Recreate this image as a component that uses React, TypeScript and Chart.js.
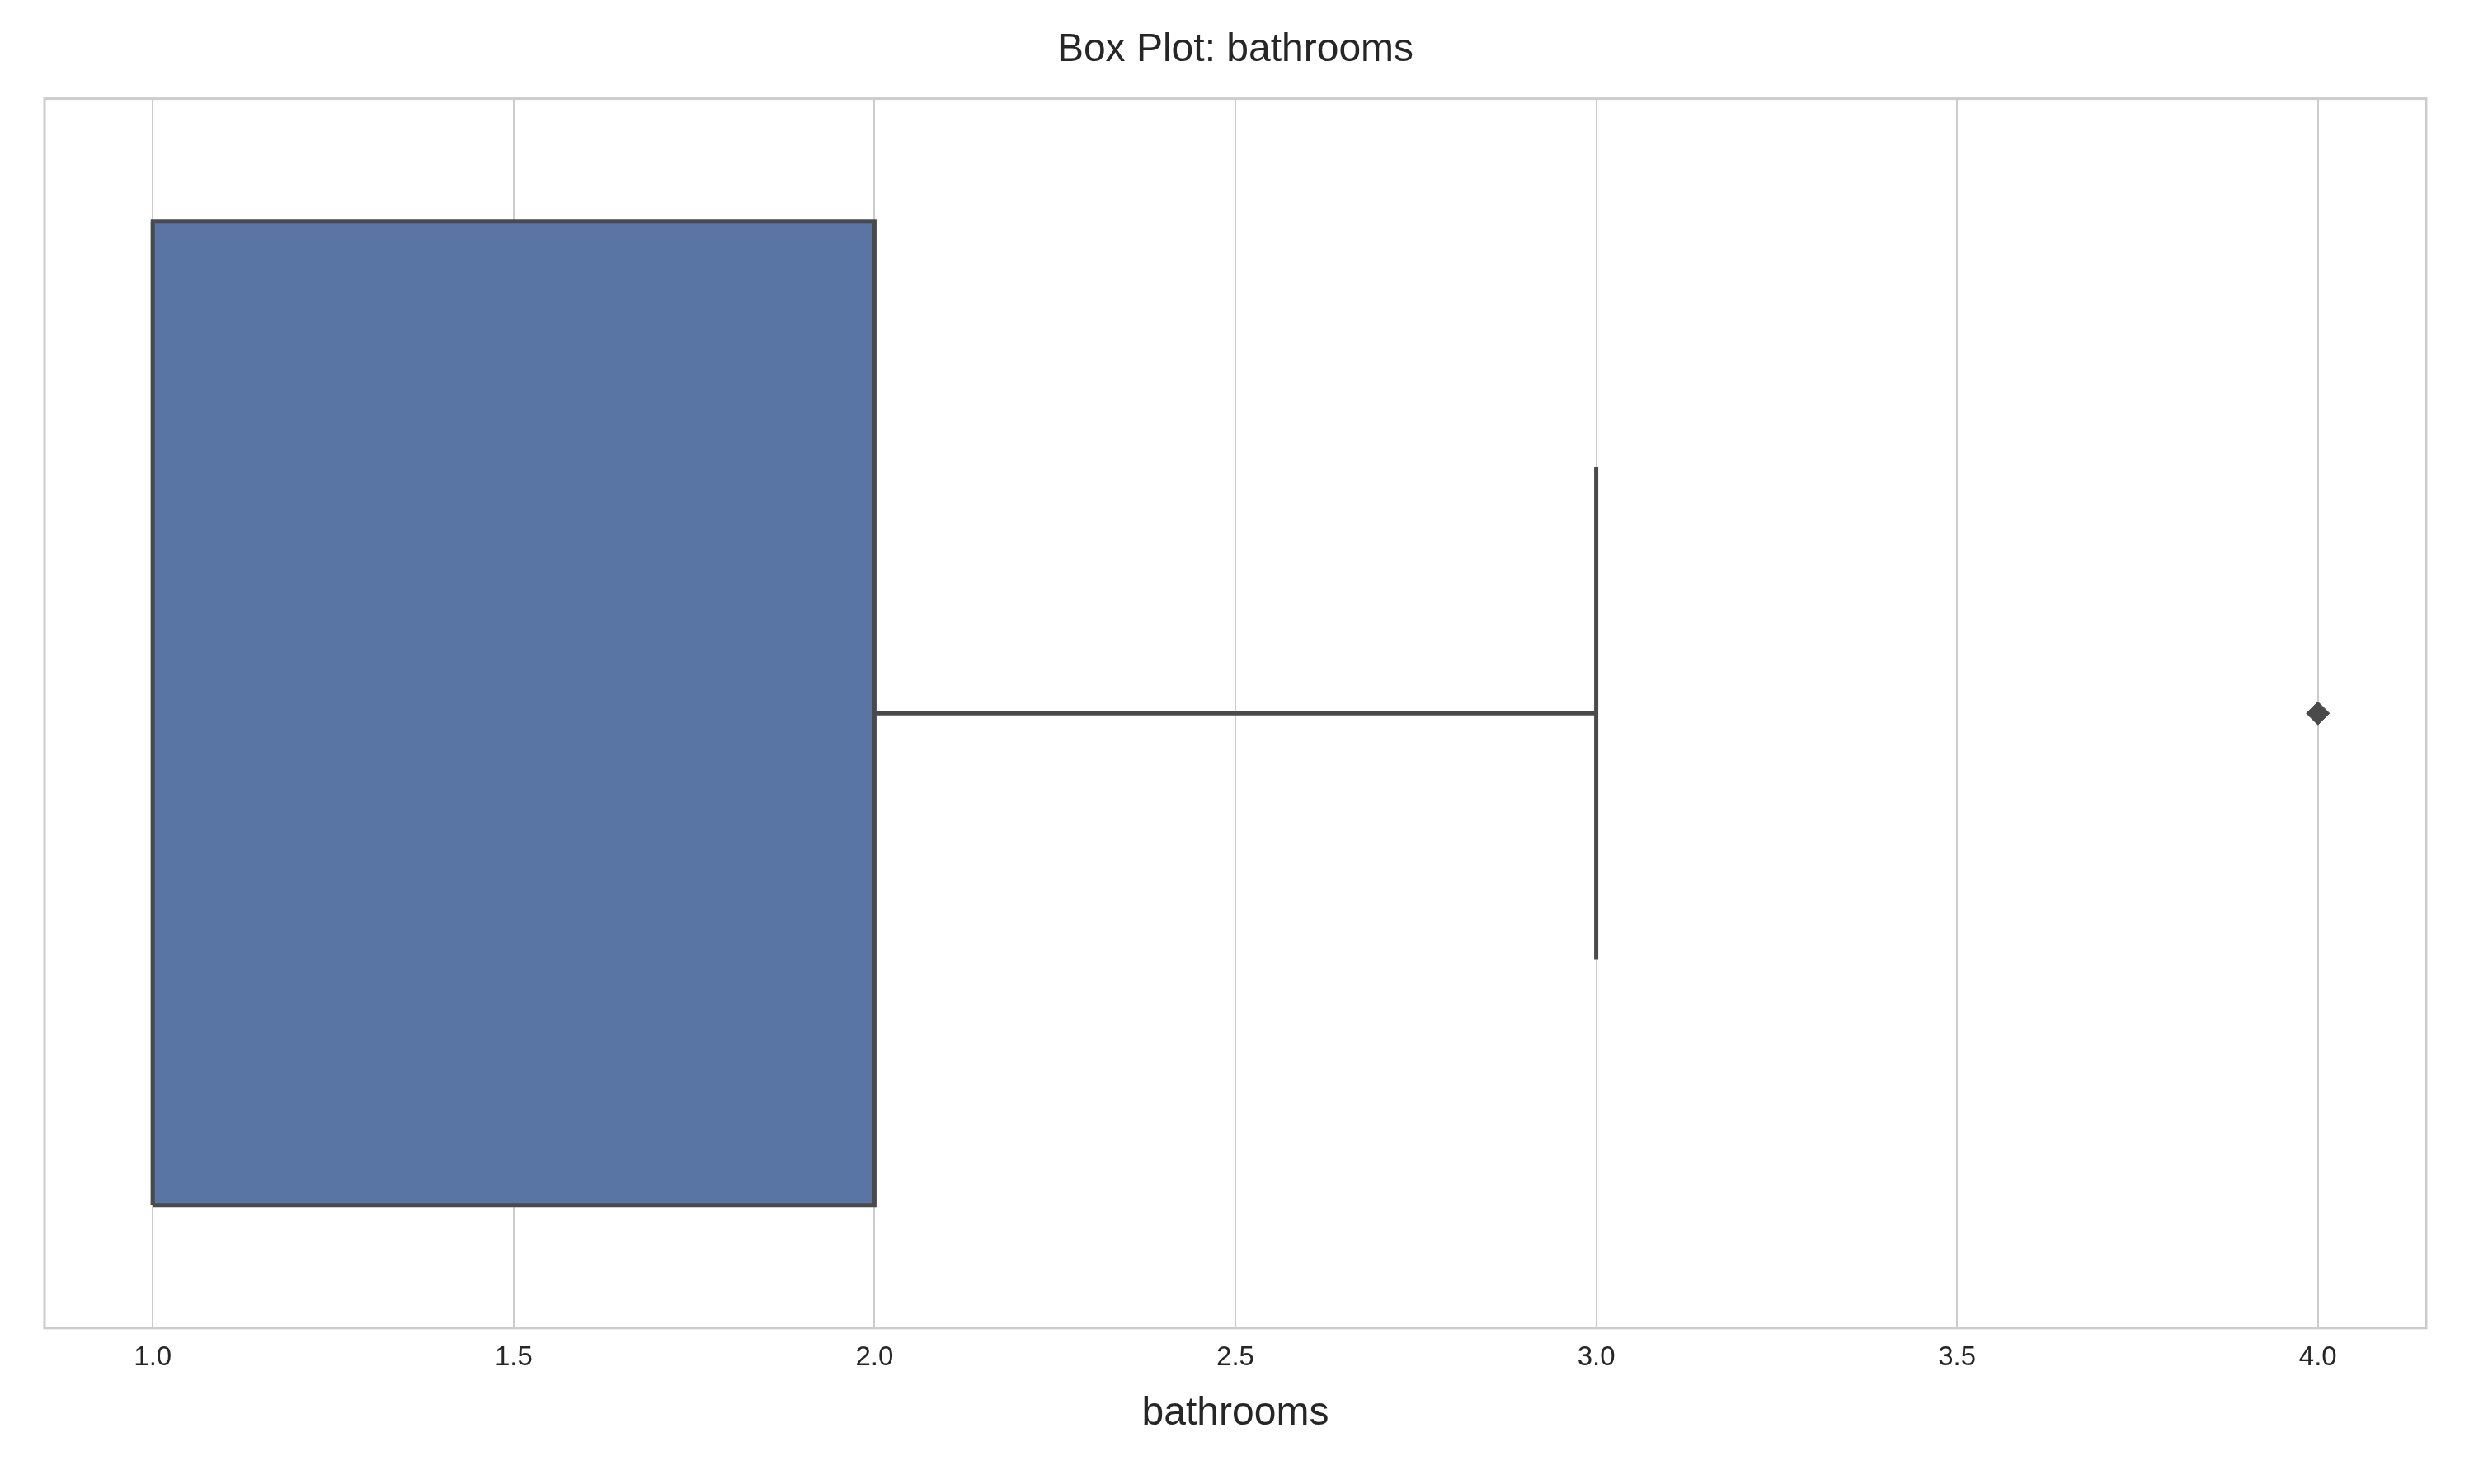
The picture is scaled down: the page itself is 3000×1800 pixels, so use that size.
import { useEffect, useRef } from "react";
import Chart from "chart.js/auto";

// summary statistics for bathrooms
const q1 = 1.0;
const median = 1.0;
const q3 = 2.0;
const whiskerLow = 1.0;
const whiskerHigh = 3.0;
const outliers = [4.0];
const xTicks = [1.0, 1.5, 2.0, 2.5, 3.0, 3.5, 4.0];

const BOX_HALF = 0.4;
const CAP_HALF = 0.2;
const EDGE = "#4a4a4a";
const LW = 5;

const frame = {
  id: "frame",
  afterDraw(chart: any) {
    const { ctx, chartArea: a } = chart;
    ctx.save();
    ctx.strokeStyle = "#cccccc";
    ctx.lineWidth = 3;
    ctx.strokeRect(a.left, a.top, a.right - a.left, a.bottom - a.top);
    ctx.restore();
  },
};

export default function App() {
  const ref = useRef<HTMLCanvasElement | null>(null);

  useEffect(() => {
    document.body.style.margin = "0";
    if (!ref.current) return;
    const c = 0.5;
    const seg = (pts: { x: number; y: number }[]) => ({
      type: "line" as const,
      data: pts,
      borderColor: EDGE,
      borderWidth: LW,
      pointRadius: 0,
      fill: false,
    });
    const chart = new Chart(ref.current, {
      type: "scatter",
      data: {
        datasets: [
          {
            type: "line",
            data: [
              { x: q1, y: c - BOX_HALF },
              { x: q3, y: c - BOX_HALF },
              { x: q3, y: c + BOX_HALF },
              { x: q1, y: c + BOX_HALF },
              { x: q1, y: c - BOX_HALF },
            ],
            backgroundColor: "#5975a4",
            borderColor: EDGE,
            borderWidth: LW,
            fill: "shape",
            pointRadius: 0,
          } as any,
          seg([
            { x: median, y: c - BOX_HALF },
            { x: median, y: c + BOX_HALF },
          ]),
          seg([
            { x: q3, y: c },
            { x: whiskerHigh, y: c },
          ]),
          seg([
            { x: whiskerLow, y: c },
            { x: q1, y: c },
          ]),
          seg([
            { x: whiskerHigh, y: c - CAP_HALF },
            { x: whiskerHigh, y: c + CAP_HALF },
          ]),
          {
            data: outliers.map((v) => ({ x: v, y: c })),
            pointStyle: "rectRot",
            pointRadius: 14,
            backgroundColor: EDGE,
            borderColor: EDGE,
          },
        ],
      },
      options: {
        responsive: false,
        animation: false,
        devicePixelRatio: 1,
        layout: { padding: { left: 54, right: 58, top: 10, bottom: 52 } },
        plugins: {
          legend: { display: false },
          tooltip: { enabled: false },
          title: {
            display: true,
            text: "Box Plot: bathrooms",
            color: "#262626",
            font: { family: "Liberation Sans", size: 48, weight: "normal" },
            padding: { top: 22, bottom: 30 },
          },
        },
        scales: {
          x: {
            type: "linear",
            min: 0.85,
            max: 4.15,
            afterBuildTicks: (axis: any) => {
              axis.ticks = xTicks.map((v) => ({ value: v }));
            },
            grid: { color: "#cccccc", lineWidth: 2, drawTicks: false },
            border: { display: false },
            ticks: {
              color: "#262626",
              padding: 16,
              font: { family: "Liberation Sans", size: 33 },
              callback: (v: any) => Number(v).toFixed(1),
            },
            title: {
              display: true,
              text: "bathrooms",
              color: "#262626",
              font: { family: "Liberation Sans", size: 48 },
              padding: { top: 4 },
            },
          },
          y: { type: "linear", min: 0, max: 1, display: false },
        },
      },
      plugins: [frame],
    });
    return () => chart.destroy();
  }, []);

  return <canvas ref={ref} width={3000} height={1800} />;
}
